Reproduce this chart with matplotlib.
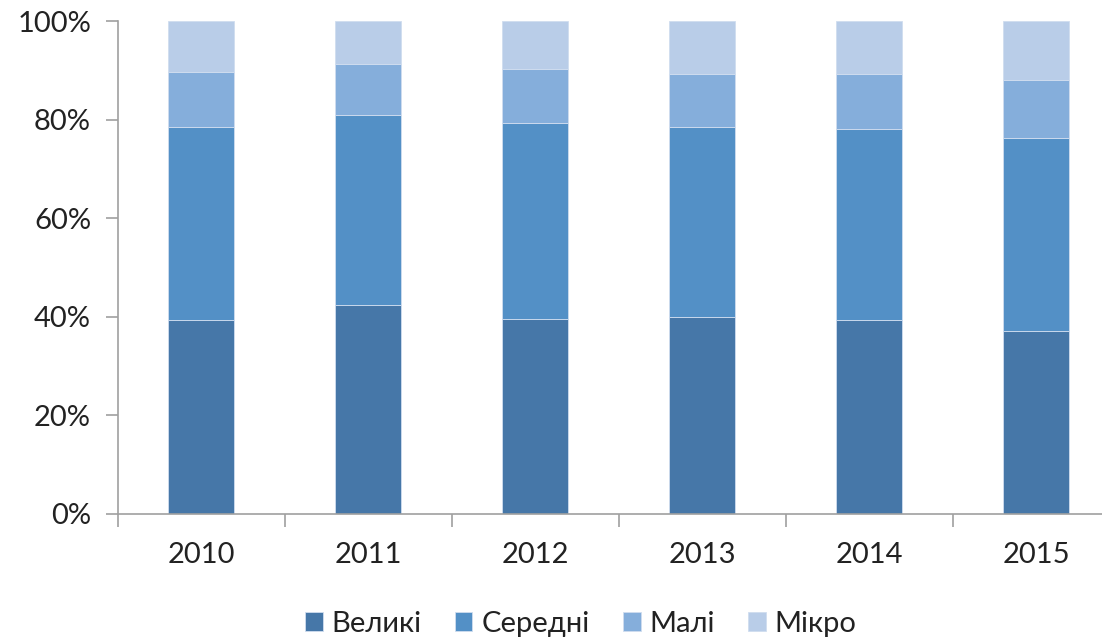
import matplotlib
matplotlib.use("Agg")
import matplotlib.pyplot as plt
import numpy as np

years = ["2010", "2011", "2012", "2013", "2014", "2015"]
series_names = ["Великі", "Середні", "Малі", "Мікро"]
velyki = [39.3, 42.4, 39.6, 40.0, 39.3, 37.1]
seredni = [39.2, 38.5, 39.8, 38.5, 38.8, 39.2]
mali = [11.2, 10.3, 10.9, 10.8, 11.2, 11.7]
mikro = [10.3, 8.8, 9.7, 10.7, 10.7, 12.0]
colors = ["#4677A8", "#5390C6", "#85AEDB", "#B9CDE8"]
y_ticks = [0, 20, 40, 60, 80, 100]
y_tick_labels = ["0%", "20%", "40%", "60%", "80%", "100%"]

plt.rcParams['font.family'] = ['Lato', 'DejaVu Sans']

fig = plt.figure(figsize=(11.02, 6.39), dpi=100)
W, H = 1102, 639
left, right = 117.5, 1119.5
y0, y100 = 514, 21
ax = fig.add_axes([left / W, (H - y0) / H, (right - left) / W, (y0 - y100) / H])

x = np.arange(len(years))
bottom = np.zeros(len(years))
handles = []
for name, vals, c in zip(series_names, [velyki, seredni, mali, mikro], colors):
    vals = np.array(vals)
    b = ax.bar(x, vals, 0.395, bottom=bottom, color=c, edgecolor="#D0DDEF",
               linewidth=0.6, label=name, zorder=2)
    handles.append(b)
    bottom += vals

ax.set_xlim(-0.5, len(years) - 0.5)
ax.set_ylim(0, 100)
ax.set_yticks(y_ticks)
ax.set_yticklabels(y_tick_labels)
ax.set_xticks(x)
ax.set_xticklabels(years)
ax.set_xticks(np.arange(-0.5, len(years), 1), minor=True)
ax.tick_params(axis='x', which='major', length=0, pad=20, labelsize=21, colors="#222222")
ax.tick_params(axis='x', which='minor', length=9, width=1.2, color="#A0A0A0", direction='out')
ax.tick_params(axis='y', which='major', length=9, width=1.2, color="#A0A0A0", pad=10,
               labelsize=21, labelcolor="#222222")

for s in ["top", "right"]:
    ax.spines[s].set_visible(False)
for s in ["left", "bottom"]:
    ax.spines[s].set_color("#A0A0A0")
    ax.spines[s].set_linewidth(1.2)

fig.legend(handles=handles, labels=series_names, loc="lower center",
           bbox_to_anchor=(0.527, -0.038), ncol=4, frameon=False, fontsize=21,
           handlelength=0.6, handleheight=0.6, handletextpad=0.3, columnspacing=1.15,
           labelcolor="#222222")

fig.savefig("out.png", dpi=100)
